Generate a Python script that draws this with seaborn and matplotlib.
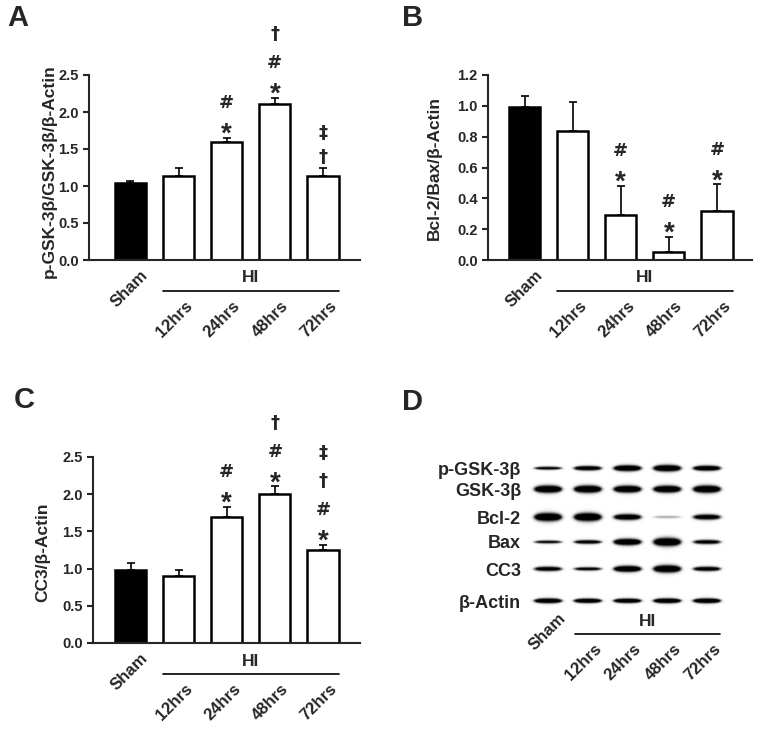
import matplotlib.pyplot as plt
import matplotlib.transforms as mtransforms
import numpy as np
import pandas as pd
import seaborn as sns

sns.set_style('ticks')
plt.rcParams['font.family'] = ['Liberation Sans', 'DejaVu Sans']
plt.rcParams['font.weight'] = 'bold'

groups = ['Sham', '12hrs', '24hrs', '48hrs', '72hrs']
colors = {'Sham': 'black', '12hrs': 'white', '24hrs': 'white', '48hrs': 'white', '72hrs': 'white'}

# panel A: p-GSK-3b / GSK-3b / b-actin
gsk_mean = [1.04, 1.13, 1.60, 2.11, 1.13]
gsk_sem = [0.025, 0.11, 0.05, 0.08, 0.11]
gsk_marks = ['', '', '*#', '*#†', '†‡']

# panel B: Bcl-2 / Bax / b-actin
bcl_mean = [0.995, 0.837, 0.29, 0.054, 0.318]
bcl_sem = [0.07, 0.185, 0.19, 0.096, 0.172]
bcl_marks = ['', '', '*#', '*#', '*#']

# panel C: CC3 / b-actin
cc3_mean = [0.986, 0.90, 1.69, 2.007, 1.245]
cc3_sem = [0.089, 0.086, 0.14, 0.10, 0.075]
cc3_marks = ['', '', '*#', '*#†', '*#†‡']

# panel D: western blot band strength and thickness
blot_rows = ['p-GSK-3β', 'GSK-3β', 'Bcl-2', 'Bax', 'CC3', 'β-Actin']
band_intensity = [[0.75, 0.9, 1.0, 1.0, 0.95],
                  [1.0, 1.0, 1.0, 1.0, 1.0],
                  [1.0, 1.0, 0.9, 0.3, 0.85],
                  [0.7, 0.8, 1.0, 1.0, 0.8],
                  [0.85, 0.75, 1.0, 1.0, 0.85],
                  [1.0, 1.0, 1.0, 1.0, 1.0]]
band_thick = [[1.8, 2.5, 3.2, 3.5, 2.8],
              [4.0, 4.0, 3.8, 3.8, 4.0],
              [4.5, 4.5, 3.3, 1.5, 3.0],
              [1.8, 2.2, 3.5, 4.5, 2.4],
              [2.5, 2.0, 3.3, 4.0, 2.5],
              [2.6, 2.4, 2.4, 2.6, 2.6]]
row_y = [13, 34, 62, 87, 114, 146]

fig = plt.figure(figsize=(7.62, 7.30), dpi=100)
W, H = 762, 730

# visual centre of each stacked mark above the error bar (px), glyph centre above baseline
mark_centres = [12, 36, 64, 92]
mark_style = {'*': ('Liberation Sans', 20, 16),
              '#': ('DejaVu Sans', 13, 6.5),
              '†': ('DejaVu Sans', 13, 5.5),
              '‡': ('DejaVu Sans', 13, 5.5)}


def group_labels(ax, shift=0):
    for i, g in enumerate(groups):
        off = (10, -8 + shift) if i == 0 else (6, -38 + shift)
        ax.annotate(g, xy=(i, 0), xycoords=('data', 'axes fraction'), xytext=off,
                    textcoords='offset pixels', rotation=45, rotation_mode='anchor',
                    ha='right', va='top', fontsize=12, fontweight='bold')
    ax.annotate('HI', xy=(2.5, 0), xycoords=('data', 'axes fraction'), xytext=(0, -18 + shift),
                textcoords='offset pixels', ha='center', va='center', fontsize=12.5, fontweight='bold')
    tr = mtransforms.offset_copy(ax.get_xaxis_transform(), fig=fig, y=-31 + shift, units='dots')
    ax.plot([0.675, 4.325], [0, 0], transform=tr, color='black', lw=1.2, clip_on=False)


def bar_panel(rect, mean, sem, marks, ylabel, ymax, ystep, xlim, label_xy):
    ax = fig.add_axes([rect[0] / W, 1 - rect[3] / H, (rect[2] - rect[0]) / W, (rect[3] - rect[1]) / H])
    df = pd.DataFrame({'group': groups, 'value': mean})
    sns.barplot(data=df, x='group', y='value', hue='group', palette=colors, legend=False,
                errorbar=None, width=0.65, edgecolor='black', linewidth=1.8, ax=ax)
    ax.errorbar(range(len(groups)), mean, yerr=[np.zeros(len(sem)), sem], fmt='none',
                ecolor='black', elinewidth=1.2, capsize=3, capthick=1.2, zorder=3)
    for i, m in enumerate(marks):
        for k, s in enumerate(m):
            fam, size, mid = mark_style[s]
            ax.annotate(s, xy=(i, mean[i] + sem[i]), xytext=(0, mark_centres[k] - mid),
                        textcoords='offset pixels', ha='center', va='baseline',
                        fontsize=size, fontweight='bold', family=[fam, 'DejaVu Sans'])
    sns.despine(ax=ax)
    for s in ['left', 'bottom']:
        ax.spines[s].set_linewidth(1.5)
    ax.set_ylim(0, ymax)
    ax.set_xlim(*xlim)
    ticks = np.arange(0, ymax + 1e-9, ystep)
    ax.set_yticks(ticks, [f'{t:.1f}' for t in ticks])
    ax.tick_params(axis='y', length=4, width=1.5, labelsize=10.5)
    ax.set_xticks([])
    ax.set_xlabel('')
    ax.set_ylabel(ylabel, fontsize=12.5, fontweight='bold')
    ax.yaxis.set_label_coords(*label_xy)
    group_labels(ax)
    return ax


bar_panel((89, 75, 360, 260), gsk_mean, gsk_sem, gsk_marks, 'p-GSK-3β/GSK-3β/β-Actin',
          2.5, 0.5, (-0.86, 4.77), (-0.12, 0.48))
bar_panel((488, 75, 752, 260), bcl_mean, bcl_sem, bcl_marks, 'Bcl-2/Bax/β-Actin',
          1.2, 0.2, (-0.76, 4.73), (-0.174, 0.5))
bar_panel((93, 457, 360, 643), cc3_mean, cc3_sem, cc3_marks, 'CC3/β-Actin',
          2.5, 0.5, (-0.78, 4.77), (-0.161, 0.49))

# panel D: blot
axd = fig.add_axes([524 / W, 1 - 610 / H, 207 / W, 155 / H])
xs = np.linspace(-0.6, 4.6, 420)
ys = np.linspace(0, 155, 310)
X, Y = np.meshgrid(xs, ys)
img = np.zeros_like(X)
for r, cy in enumerate(row_y):
    for j in range(len(groups)):
        u = (X - j) / 0.36
        taper = np.clip(1 - 0.35 * u ** 2, 0.2, 1)
        d = band_intensity[r][j] * 1.5 * np.exp(-np.abs(u) ** 6) \
            * np.exp(-((Y - cy) / (band_thick[r][j] * taper)) ** 2)
        img = np.maximum(img, d)
img = np.clip(img, 0, 1)
axd.imshow(img, cmap='Greys', vmin=0, vmax=1, extent=(-0.6, 4.6, 155, 0),
           aspect='auto', interpolation='bilinear')
axd.set_xlim(-0.6, 4.6)
axd.set_ylim(155, 0)
axd.set_yticks(row_y, blot_rows)
axd.tick_params(axis='y', length=0, pad=2, labelsize=13)
axd.set_xticks([])
for s in axd.spines.values():
    s.set_visible(False)
group_labels(axd, shift=7)

for letter, x, y in [('A', 7, 4), ('B', 402, 4), ('C', 14, 386), ('D', 402, 388)]:
    fig.text(x / W, 1 - y / H, letter, fontsize=21, fontweight='bold', ha='left', va='top')

fig.savefig('out.png', dpi=100)
